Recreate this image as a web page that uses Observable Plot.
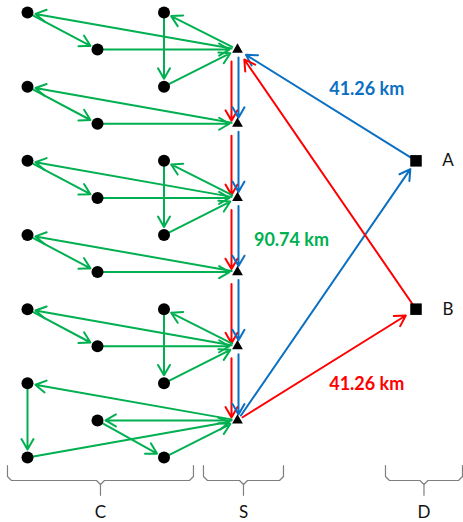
<!DOCTYPE html>
<html><head><meta charset="utf-8">
<script src="https://cdn.jsdelivr.net/npm/d3@7"></script>
<script src="https://cdn.jsdelivr.net/npm/@observablehq/plot@0.6"></script>
<style>body{margin:0;background:#fff;} svg{display:block;}</style>
</head><body><div id="chart"></div>
<script>
// ---- data ----
const columnNames = ["C1", "C2", "C3", "S", "D"];
const columnPos = [0, 1, 1.95, 3, 5.55];

const customerIds  = ["c1","c2","c3","c4","c5","c6","c7","c8","c9","c10","c11","c12","c13","c14","c15","c16","c17","c18","c19","c20"];
const customerCols = ["C1","C3","C2","C3","C1","C2","C1","C3","C2","C3","C1","C2","C1","C3","C2","C3","C1","C2","C1","C3"];
const customerRows = [0, 0, 1, 2, 2, 3, 4, 4, 5, 6, 6, 7, 8, 8, 9, 10, 10, 11, 12, 12];

const satelliteIds  = ["S1","S2","S3","S4","S5","S6"];
const satelliteRows = [1, 3, 5, 7, 9, 11];

const depotIds  = ["A","B"];
const depotRows = [4, 8];

const greenArcs = [
  ["S1","c1"],["c1","c3"],["c3","S1"],["S1","c2"],["c2","c4"],["c4","S1"],
  ["S2","c5"],["c5","c6"],["c6","S2"],
  ["S3","c7"],["c7","c9"],["c9","S3"],["S3","c8"],["c8","c10"],["c10","S3"],
  ["S4","c11"],["c11","c12"],["c12","S4"],
  ["S5","c13"],["c13","c15"],["c15","S5"],["S5","c14"],["c14","c16"],["c16","S5"],
  ["S6","c17"],["c17","c19"],["c19","S6"],["S6","c18"],["c18","c20"],["c20","S6"]
];
const redRoute  = ["B","S1","S2","S3","S4","S5","S6","B"];
const blueRoute = ["A","S1","S2","S3","S4","S5","S6","A"];

const distanceTexts = ["41.26 km", "90.74 km", "41.26 km"];
const distanceEdges = [["A","S1"], ["S3","S4"], ["S6","B"]];

const groupLabels = ["C", "S", "D"];
const groupFrom = [-0.286, 2.514, 5.114];
const groupTo   = [2.371, 3.657, 6.214];

// ---- build tables ----
const colX = Object.fromEntries(columnNames.map((c, i) => [c, columnPos[i]]));
const customers = customerIds.map((id, i) => ({id, x: colX[customerCols[i]], y: customerRows[i]}));
const satellites = satelliteIds.map((id, i) => ({id, x: colX.S, y: satelliteRows[i]}));
const depots = depotIds.map((id, i) => ({id, x: colX.D, y: depotRows[i]}));
const node = Object.fromEntries([...customers, ...satellites, ...depots].map(d => [d.id, d]));

const arc = ([a, b]) => ({from: a, to: b, x1: node[a].x, y1: node[a].y, x2: node[b].x, y2: node[b].y});
const routeArcs = r => r.slice(1).map((b, i) => arc([r[i], b]));
const green = greenArcs.map(arc);
const red = routeArcs(redRoute), blue = routeArcs(blueRoute);
const isVert = d => d.from.startsWith("S") && d.to.startsWith("S");

const GREEN = "#00B050", RED = "#FF0000", BLUE = "#0B70C2";
const FONT = "Lato, 'Open Sans', sans-serif";

// brace geometry (px converted to units)
const ux = 1 / 70, uy = 1 / 37.083;
const yTop = 12.22, yMid = 12.62, yTip = 13.02, yLab = 13.48;
const braces = [];
groupLabels.forEach((g, i) => {
  const L = groupFrom[i], R = groupTo[i], M = (L + R) / 2, c = 4 * ux, cy = 4 * uy;
  [[L, yTop], [L, yMid - cy], [L + c, yMid], [M - c, yMid], [M, yMid + cy], [M, yTip],
   [M, yMid + cy], [M + c, yMid], [R - c, yMid], [R, yMid - cy], [R, yTop]]
    .forEach(([x, y]) => braces.push({g, x, y}));
});
const groups = groupLabels.map((g, i) => ({g, x: (groupFrom[i] + groupTo[i]) / 2}));

const mid = (e, i) => ({text: distanceTexts[i], x: (node[e[0]].x + node[e[1]].x) / 2, y: (node[e[0]].y + node[e[1]].y) / 2});
const labs = distanceEdges.map(mid);

const chart = Plot.plot({
  width: 463, height: 522,
  x: {domain: [0, 3], range: [27, 237], axis: null},
  y: {domain: [0, 12], range: [12, 457], axis: null},
  marks: [
    // braces
    Plot.line(braces, {x: "x", y: "y", z: "g", stroke: "#7F7F7F", strokeWidth: 1.2}),
    Plot.text(groups, {x: "x", y: yLab, text: "g", fontSize: 17, fontFamily: FONT, fill: "#111"}),
    // routes between satellites
    Plot.arrow(red.filter(isVert), {x1: "x1", y1: "y1", x2: "x2", y2: "y2", stroke: RED, strokeWidth: 2, dx: -6, insetStart: 12, insetEnd: 3, headLength: 9}),
    Plot.arrow(blue.filter(isVert), {x1: "x1", y1: "y1", x2: "x2", y2: "y2", stroke: BLUE, strokeWidth: 2, dx: 1, insetStart: 8, insetEnd: 6, headLength: 9}),
    // depot links
    Plot.arrow(blue.filter(d => !isVert(d)), {x1: "x1", y1: "y1", x2: "x2", y2: "y2", stroke: BLUE, strokeWidth: 2, insetStart: 6, insetEnd: 10, headLength: 9}),
    Plot.arrow(red.filter(d => !isVert(d)), {x1: "x1", y1: "y1", x2: "x2", y2: "y2", stroke: RED, strokeWidth: 2, insetStart: 6, insetEnd: 12, headLength: 9}),
    // customer tours
    Plot.arrow(green, {x1: "x1", y1: "y1", x2: "x2", y2: "y2", stroke: GREEN, strokeWidth: 2, insetStart: 6, insetEnd: 8, headLength: 9}),
    // nodes
    Plot.dot(customers, {x: "x", y: "y", r: 6, fill: "black"}),
    Plot.dot(satellites, {x: "x", y: "y", r: 4, symbol: "triangle", fill: "black"}),
    Plot.dot(depots, {x: "x", y: "y", r: 6.5, symbol: "square", fill: "black"}),
    Plot.text(depots, {x: "x", y: "y", text: "id", dx: 32, fontSize: 17, fontFamily: FONT, fill: "#111"}),
    // distance labels
    Plot.text([labs[0]], {x: "x", y: "y", text: "text", dx: 40, dy: -16, fontSize: 18, fontWeight: "bold", fontFamily: FONT, fill: BLUE}),
    Plot.text([labs[1]], {x: "x", y: "y", text: "text", dx: 54, dy: 5, fontSize: 18, fontWeight: "bold", fontFamily: FONT, fill: GREEN}),
    Plot.text([labs[2]], {x: "x", y: "y", text: "text", dx: 40, dy: 19, fontSize: 18, fontWeight: "bold", fontFamily: FONT, fill: RED})
  ]
});
document.getElementById("chart").appendChild(chart);
</script>
</body></html>
